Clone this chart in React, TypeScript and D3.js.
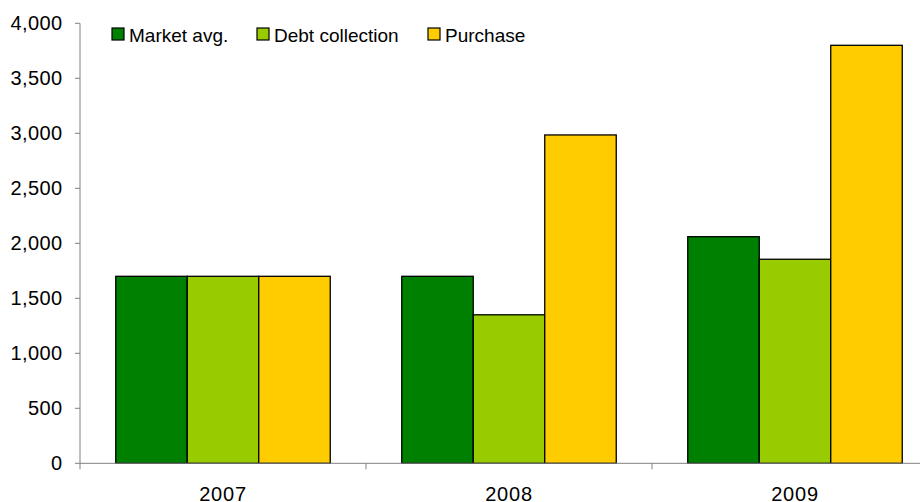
import React from "react";
import * as d3 from "d3";

const categories = ["2007", "2008", "2009"];
const seriesNames = ["Market avg.", "Debt collection", "Purchase"];
const marketAvg = [1700, 1700, 2060];
const debtCollection = [1700, 1350, 1855];
const purchase = [1700, 2985, 3800];
const yTicks = [0, 500, 1000, 1500, 2000, 2500, 3000, 3500, 4000];
const colors = ["#008000", "#99CC00", "#FFCC00"];

export default function App() {
  const W = 920, H = 502;
  const left = 80, right = 938, top = 23.3, bottom = 463.3;
  const series = [marketAvg, debtCollection, purchase];
  const x0 = d3.scaleBand().domain(categories).range([left, right]).paddingInner(0.25).paddingOuter(0.125);
  const band = d3.scaleBand().domain(categories).range([left, right]);
  const x1 = d3.scaleBand().domain(seriesNames).range([0, x0.bandwidth()]);
  const y = d3.scaleLinear().domain([0, 4000]).range([bottom, top]);
  const fmt = d3.format(",");
  const font = "'Liberation Sans', Arial, sans-serif";
  const legendX = [112, 257, 428];
  return (
    <svg width={W} height={H} style={{ position: "absolute", left: 0, top: 0 }} fontFamily={font}>
      <rect width={W} height={H} fill="#fff" />
      {categories.map((c, ci) =>
        series.map((s, si) => (
          <rect key={c + si} x={(x0(c) as number) + (x1(seriesNames[si]) as number)} y={y(s[ci])}
            width={x1.bandwidth()} height={bottom - y(s[ci])} fill={colors[si]} stroke="#000" strokeWidth={1.3} />
        ))
      )}
      <line x1={left} x2={left} y1={top} y2={bottom} stroke="#808080" strokeWidth={1} />
      <line x1={left} x2={right} y1={bottom} y2={bottom} stroke="#808080" strokeWidth={1} />
      {yTicks.map(t => (
        <g key={t}>
          <line x1={left - 5} x2={left} y1={y(t)} y2={y(t)} stroke="#808080" />
          <text x={62.5} y={y(t) + 7} textAnchor="end" fontSize={20} letterSpacing={0.4} fill="#000">{fmt(t)}</text>
        </g>
      ))}
      {categories.map(c => (
        <g key={c}>
          <line x1={band(c) as number} x2={band(c) as number} y1={bottom} y2={bottom + 6} stroke="#808080" />
          <text x={(band(c) as number) + band.bandwidth() / 2} y={500.5} textAnchor="middle" fontSize={20} letterSpacing={0.8} fill="#000">{c}</text>
        </g>
      ))}
      <line x1={right} x2={right} y1={bottom} y2={bottom + 6} stroke="#808080" />
      {seriesNames.map((n, i) => (
        <g key={n}>
          <rect x={legendX[i]} y={28} width={12} height={12} fill={colors[i]} stroke="#000" strokeWidth={1.2} />
          <text x={legendX[i] + 17} y={41.7} fontSize={19} fill="#000">{n}</text>
        </g>
      ))}
    </svg>
  );
}
